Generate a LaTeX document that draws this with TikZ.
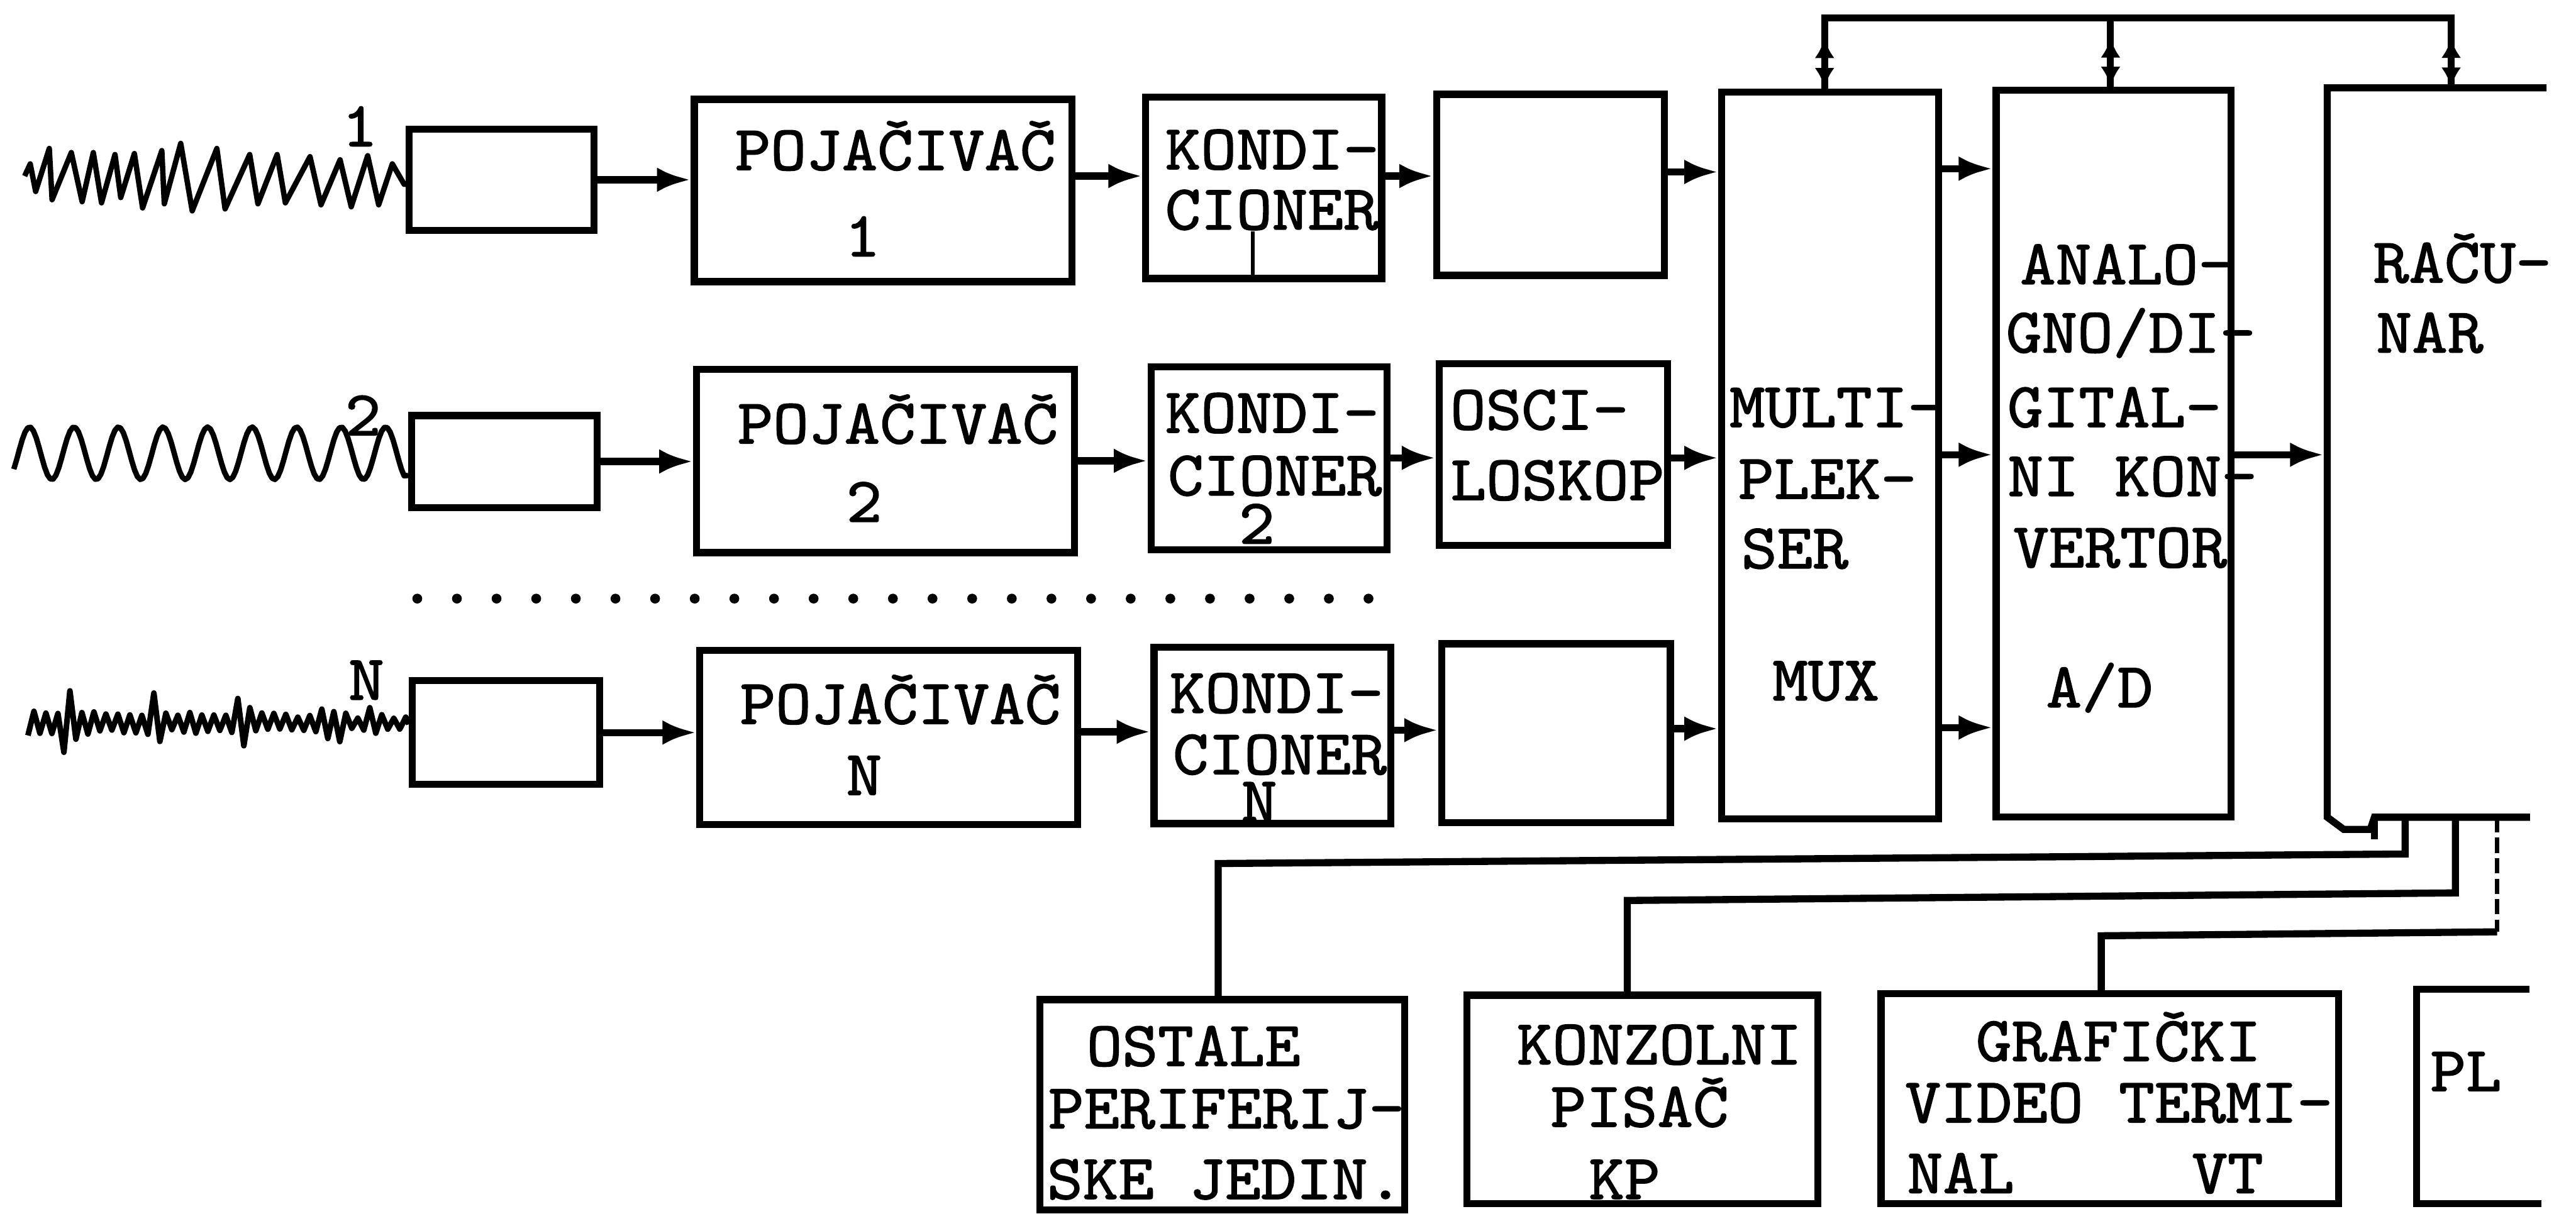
\documentclass[tikz,border=0pt]{standalone}
\usepackage{fontspec}
\newfontfamily\tw[FakeStretch=1.065,FakeBold=1.6]{lmmono10-regular.otf}
\usetikzlibrary{arrows.meta,decorations.markings,fit}
\begin{document}
\begin{tikzpicture}[x=0.2673mm,y=-0.2673mm,
  box/.style={draw,line width=3.3pt,inner sep=0pt},
  ghost/.style={inner sep=0pt,outer sep=0pt},
  txt/.style={font={\tw\fontsize{29.5pt}{30pt}\selectfont},inner sep=0pt,anchor=base},
  wire/.style={line width=3.3pt},
  arr/.style={line width=3.3pt,-{Latex[length=5.5mm,width=4mm]}},
  wave/.style={line width=2.5pt,line join=round},
  bidir/.style={line width=3.2pt,postaction={decorate},decoration={markings,
     mark=at position 0.29 with {\arrow{Latex[length=3.2mm,width=3.2mm,reversed]}},
     mark=at position 0.71 with {\arrow{Latex[length=3.2mm,width=3.2mm]}}}}
]
\useasboundingbox (0,0) rectangle (1568,739);
\fill[white] (0,0) rectangle (1568,739);
\clip (0,0) rectangle (1568,739);

% ---------- boxes ----------
\node[box,fit={(249,78.6) (361.6,140.3)}] (s1) {};
\node[box,fit={(250.6,253) (363.5,309)}] (s2) {};
\node[box,fit={(251,414.5) (365,477.6)}] (sN) {};
\node[box,fit={(422.6,60.5) (652.5,171.5)}] (p1) {};
\node[box,fit={(424,225) (654,336.5)}] (p2) {};
\node[box,fit={(426,396) (656,502)}] (pN) {};
\node[box,fit={(697.4,59.2) (841,169.6)}] (k1) {};
\node[box,fit={(700.7,223.4) (844.4,334.8)}] (k2) {};
\node[box,fit={(702.5,394) (846.5,501.5)}] (kN) {};
\node[box,fit={(874.5,57.4) (1013,167.7)}] (e1) {};
\node[box,fit={(876,221.5) (1015,332)}] (osc) {};
\node[box,fit={(877.5,392) (1016.8,501)}] (eN) {};
\node[box,fit={(1048,56) (1180,498.5)}] (mux) {};
\node[box,fit={(1215,55) (1358,497.5)}] (ad) {};
\node[ghost,fit={(1416.6,53.5) (1600,497.6)}] (rac) {};
\node[box,fit={(633,608.7) (855,736.6)}] (ost) {};
\node[box,fit={(893,606) (1106.5,733)}] (konz) {};
\node[box,fit={(1145,605) (1423.5,733)}] (graf) {};
\node[ghost,fit={(1471,602.3) (1600,733)}] (pl) {};

% computer and plotter outlines (cut by the picture edge)
\draw[wire] (1550,53.5) -- (rac.north west) -- (rac.south west) -- (1426.6,505) -- (1442.8,505) -- (1445.3,497.6) -- (1540,497.6);
\draw[wire] (1445.3,497.6) -- (1445.3,511);
\draw[wire] (1539.5,602.3) -- (pl.north west) -- (pl.south west) -- (1547,733);

% ---------- texts ----------
\node[txt] (l1) at (219,89) {1};
\node[txt] (l2) at (221,265) {2};
\node[txt] (lN) at (223,426) {N};

\node[txt] (p1a) at (545,103.5) {POJAČIVAČ};
\node[txt] (p1b) at (525,156) {1};
\node[txt] (p2a) at (546.5,270) {POJAČIVAČ};
\node[txt] (p2b) at (526,317.7) {2};
\node[txt] (pNa) at (548,440.7) {POJAČIVAČ};
\node[txt] (pNb) at (526,484) {N};

\node[txt] (k1a) at (774.3,103) {KONDI-};
\node[txt] (k1b) at (774.3,139.7) {CIONER};
\node[txt] (k2a) at (774.3,263.4) {KONDI-};
\node[txt] (k2b) at (776,301.6) {CIONER};
\node[txt] (k2c) at (765,331) {2};
\node[txt] (kNa) at (777,434) {KONDI-};
\node[txt] (kNb) at (779,471.4) {CIONER};
\node[txt] (kNc) at (766.5,500) {N};

\node[txt] (osca) at (937,261.5) {OSCI-};
\node[txt] (oscb) at (948,304.4) {LOSKOP};

\node[txt] (muxa) at (1117.8,260) {MULTI-};
\node[txt] (muxb) at (1112.3,303.6) {PLEK-};
\node[txt] (muxc) at (1092.5,346) {SER};
\node[txt] (muxd) at (1111.4,426.4) {MUX};

\node[txt] (ada) at (1294.7,173) {ANALO-};
\node[txt] (adb) at (1297,214.6) {GNO/DI-};
\node[txt] (adc) at (1287,260) {GITAL-};
\node[txt] (add) at (1298,302) {NI KON-};
\node[txt] (ade) at (1290.5,345.4) {VERTOR};
\node[txt] (adf) at (1278,430.6) {A/D};

\node[txt] (raca) at (1498.8,172) {RAČU-};
\node[txt] (racb) at (1479,214.6) {NAR};

\node[txt] (osta) at (726.5,649) {OSTALE};
\node[txt] (ostb) at (746.5,687) {PERIFERIJ-};
\node[txt] (ostc) at (745.8,730) {SKE JEDIN.};
\node[txt] (konza) at (1010,648) {KONZOLNI};
\node[txt] (konzb) at (998,686) {PISAČ};
\node[txt] (konzc) at (988.8,730) {KP};
\node[txt] (grafa) at (1289.5,646) {GRAFIČKI};
\node[txt] (grafb) at (1289.8,683.4) {VIDEO TERMI-};
\node[txt] (grafc) at (1193.5,726.4) {NAL};
\node[txt] (grafd) at (1355.9,726.4) {VT};
\node[txt] (pla) at (1501,664.3) {PL};

% small mark in first conditioner
\draw[line width=1.6pt] (762.6,141) -- (k1.south -| 762.6,0);

% ---------- signals ----------
\draw[wave] (15,107.2) -- (18.4,99.8) -- (21.7,116.6) -- (30,90.4) -- (31.7,121.6) -- (43.4,92.9) -- (50,122.8) -- (56.8,92.9) -- (61.8,123.5) -- (70,94.1) -- (73.5,120.3) -- (81.8,93.5) -- (86.8,126.6) -- (98.5,91.7) -- (100,124.1) -- (110,87.3) -- (117,128.4) -- (132,90.4) -- (137,127.2) -- (152,94.1) -- (157,124.1) -- (168.7,94.1) -- (173.7,123.5) -- (188.7,95.4) -- (195.4,124.7) -- (207,97.3) -- (213.8,125.9) -- (223.8,94.8) -- (230.5,124.7) -- (238.8,99.8) -- (246,112.2) -- (s1.west |- 0,112.2);
\draw[wave] plot[domain=8.4:246,samples=140,variable=\t] (\t,{276-16*sin((\t-11.2)*13.284)}) -- (s2.west |- 0,289.5);
\pgfmathsetseed{11}
\draw[line width=2.6pt,line join=round] plot[domain=17:247,samples=64,variable=\t] (\t,{440+cos(49.57*(\t-17))*(8+20*max(0,1-abs(\t-41)/6)+22*max(0,1-abs(\t-95)/6)+24*max(0,1-abs(\t-147)/6)+18*max(0,1-abs(\t-198)/6)+18*max(0,1-abs(\t-207)/5)+18*max(0,1-abs(\t-227)/6))*(0.55+0.45*rnd)}) -- (sN.west |- 0,441);

% dotted row
\foreach \i in {0,...,24} \fill (254+24.125*\i,364.5) circle[radius=0.8mm];

% ---------- arrows ----------
\draw[arr] (s1.east) -- (s1.east -| p1.west);
\draw[arr] (s2.east) -- (s2.east -| p2.west);
\draw[arr] (sN.east) -- (sN.east -| pN.west);
\draw[arr] (p1.east |- 0,107.2) -- (k1.west |- 0,107.2);
\draw[arr] (k1.east |- 0,107.2) -- (e1.west |- 0,107.2);
\draw[arr] (e1.east |- 0,104.7) -- (mux.west |- 0,104.7);
\draw[arr] (p2.east |- 0,280.6) -- (k2.west |- 0,280.6);
\draw[arr] (k2.east |- 0,278.8) -- (osc.west |- 0,278.8);
\draw[arr] (osc.east |- 0,278.8) -- (mux.west |- 0,278.8);
\draw[arr] (pN.east |- 0,445.6) -- (kN.west |- 0,445.6);
\draw[arr] (kN.east |- 0,444.6) -- (eN.west |- 0,444.6);
\draw[arr] (eN.east |- 0,443.7) -- (mux.west |- 0,443.7);
\draw[arr] (mux.east |- 0,102.7) -- (ad.west |- 0,102.7);
\draw[arr] (mux.east |- 0,276.9) -- (ad.west |- 0,276.9);
\draw[arr] (mux.east |- 0,443) -- (ad.west |- 0,443);
\draw[arr,shorten >=1.6pt] (ad.east |- 0,276.9) -- (rac.west |- 0,276.9);

% ---------- bus ----------
\coordinate (bL) at (1110.6,10.9);
\coordinate (bM) at (1284.7,10.9);
\coordinate (bR) at (1492,10.9);
\draw[wire,line cap=rect] (bL) -- (bR);
\draw[bidir] (mux.north -| bL) -- (bL);
\draw[bidir] (ad.north -| bM) -- (bM);
\draw[bidir] (rac.north -| bR) -- (bR);

% ---------- peripherals ----------
\draw[wire] (rac.south -| 1464,0) -- (1464,520) -- (741.5,525.8) -- (ost.north -| 741.5,0);
\draw[wire] (rac.south -| 1494.6,0) -- (1494.6,543.7) -- (990.5,548.3) -- (konz.north -| 990.5,0);
\draw[line width=2.2pt,dash pattern=on 7pt off 2.5pt] (rac.south -| 1520,0) -- (1520,567.4);
\draw[wire] (1520,567.4) -- (1279,569.8) -- (graf.north -| 1279,0);
\end{tikzpicture}
\end{document}
